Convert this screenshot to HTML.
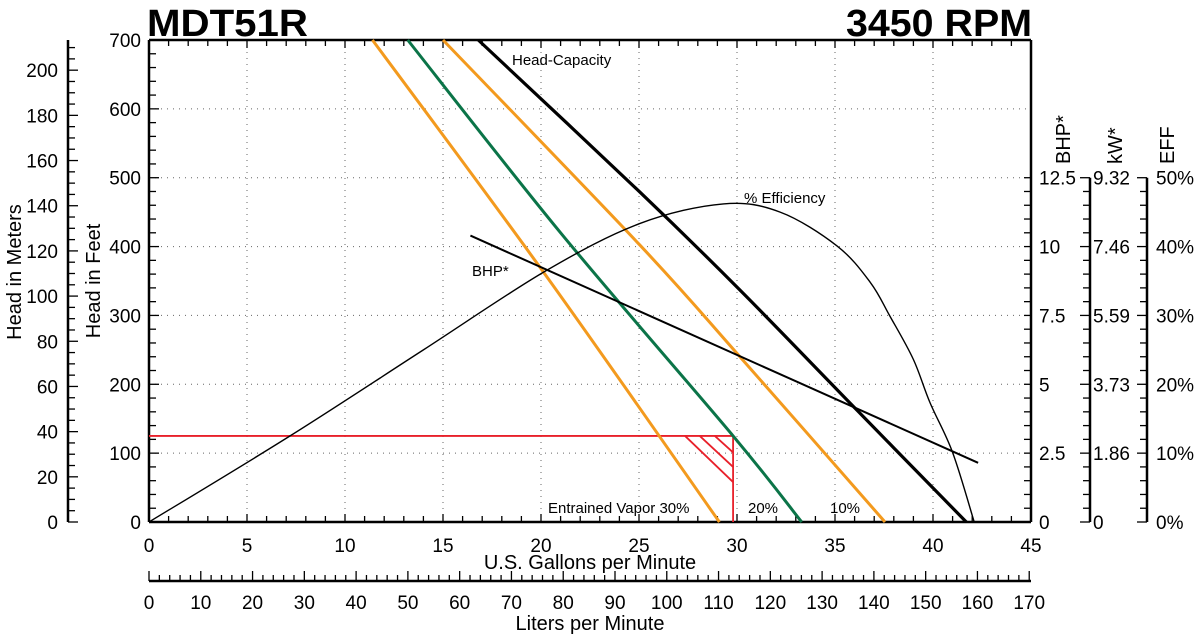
<!DOCTYPE html>
<html><head><meta charset="utf-8"><style>
html,body{margin:0;padding:0;background:#fff}
svg{display:block;font-family:"Liberation Sans",Arial,sans-serif}
</style></head><body>
<svg id="c" width="1200" height="638" viewBox="0 0 1200 638" xmlns="http://www.w3.org/2000/svg"></svg>
<script>
const gpmTicks=[0,5,10,15,20,25,30,35,40,45];
const ftTicks=[0,100,200,300,400,500,600,700];
const mTicks=[0,20,40,60,80,100,120,140,160,180,200];
const lpmTicks=[0,10,20,30,40,50,60,70,80,90,100,110,120,130,140,150,160,170];
const bhpTicks=[0,2.5,5,7.5,10,12.5];
const kwLabels=["0","1.86","3.73","5.59","7.46","9.32"];
const effTicks=[0,10,20,30,40,50];
const hcGpm=[16.8,25.05,30.15,36.1,41.7];
const hcFt=[700,479,337,163,0];
const effGpm=[0,7.2,14,20.2,25,29.3,32.2,35.1,36.8,37.8,39,39.85,41,42.1];
const effPct=[0,12.5,25,36.4,43.3,46.2,45,40.1,34.8,29.9,23.6,17.3,10.1,0];
const bhpGpm=[16.4,42.3];
const bhpVal=[10.4,2.15];
const v30Gpm=[11.4,20.2,29.1];const v30Ft=[700,360,0];
const v20Gpm=[13.2,21,29.8,33.3];const v20Ft=[700,420,125,0];
const v10Gpm=[15.0,25.05,30.15,37.55];const v10Ft=[700,402,240,0];
const npshFt=125, npshGpm=29.8;
const hatchStartGpm=[27.35,28.1,28.87];
const hatchEndFt=[58,80,101];

const L=149,R=1031,T=40,B=522;
const X=g=>L+g*(R-L)/45;
const Y=f=>B-f*(B-T)/700;
const YB=b=>Y(b*40);
const YE=e=>Y(e*10);
const YM=m=>Y(m*3.28084);
const XL=l=>X(l/3.78541);
const svg=document.getElementById('c');
const NS='http://www.w3.org/2000/svg';
function el(tag,attrs,parent){const e=document.createElementNS(NS,tag);for(const k in attrs)e.setAttribute(k,attrs[k]);(parent||svg).appendChild(e);return e;}
function txt(x,y,s,size,anchor,extra){const t=el('text',Object.assign({x:x,y:y,'font-size':size,'text-anchor':anchor||'start',fill:'#000'},extra||{}));t.textContent=s;return t;}
function line(x1,y1,x2,y2,w,c){return el('line',{x1,y1,x2,y2,stroke:c||'#000','stroke-width':w||1});}

const grid=el('g',{});


gpmTicks.slice(1,-1).forEach(g=>el('line',{x1:X(g),y1:T,x2:X(g),y2:B,stroke:'#666','stroke-width':1,'stroke-dasharray':'1,5'},grid));
ftTicks.slice(1,-1).forEach(f=>el('line',{x1:L,y1:Y(f),x2:R,y2:Y(f),stroke:'#666','stroke-width':1,'stroke-dasharray':'1,5'},grid));

let t=txt(147,36,'MDT51R',38,'start',{'font-weight':'bold',textLength:161,lengthAdjust:'spacingAndGlyphs'});

t=txt(1032,36,'3450 RPM',38,'end',{'font-weight':'bold',textLength:186,lengthAdjust:'spacingAndGlyphs'});


for(let g=0;g<=45;g++){const len=g%5==0?8:6;line(X(g),B,X(g),B-len,1.3);line(X(g),T,X(g),T+len,1.3);}
for(let f=0;f<=700;f+=20){const len=f%100==0?10:7;line(L,Y(f),L+len,Y(f),1.3);}
for(let b=0;b<=12.5;b+=0.5){line(R,YB(b),R-7,YB(b),1.3);}
line(L,T,R,T,2.5);line(L,B,R,B,2.5);line(L,T,L,B,2.5);line(R,T,R,B,2.5);

gpmTicks.forEach(g=>{const e=txt(X(g),552,String(g),19,'middle');});
ftTicks.forEach(f=>{const e=txt(141,Y(f)+7,String(f),19,'end');});
t=txt(590,569,'U.S. Gallons per Minute',20,'middle');
t=txt(0,0,'Head in Feet',20,'middle',{transform:'translate(100,281) rotate(-90)'});

const MX=68;
line(MX,Y(0),MX,Y(700),2.5);
for(let m=0;m<=210;m+=5){line(MX,YM(m),MX+(m%20==0?10:7),YM(m),1.3);}
mTicks.forEach(m=>{const e=txt(58,YM(m)+7,String(m),19,'end');});
t=txt(0,0,'Head in Meters',20,'middle',{transform:'translate(21,272) rotate(-90)'});

const LY=581;
line(L,LY,R,LY,2.5);
for(let l=0;l<=170;l+=2){line(XL(l),LY,XL(l),LY-(l%10==0?10:6),1.3);}
lpmTicks.forEach(l=>{const e=txt(XL(l),609,String(l),19,'middle');});
t=txt(590,630,'Liters per Minute',20,'middle');

bhpTicks.forEach(b=>{const e=txt(1039,YB(b)+7,String(b),19,'start');});
t=txt(0,0,'BHP*',20,'start',{transform:'translate(1070,164) rotate(-90)'});
const KX=1090;
line(KX,YB(0),KX,YB(12.5),2.5);
for(let b=0;b<=12.5;b+=0.5){line(KX,YB(b),KX-(b%2.5==0?10:7),YB(b),1.3);}
kwLabels.forEach((s,i)=>{const e=txt(1093,YB(bhpTicks[i])+7,s,19,'start');});
t=txt(0,0,'kW*',20,'start',{transform:'translate(1122,164) rotate(-90)'});
const EX=1147;
line(EX,YE(0),EX,YE(50),2.5);
for(let e2=0;e2<=50;e2+=2){line(EX,YE(e2),EX-(e2%10==0?10:7),YE(e2),1.3);}
effTicks.forEach(e2=>{const e=txt(1156,YE(e2)+7,e2+'%',19,'start');});
t=txt(0,0,'EFF',20,'start',{transform:'translate(1174,164) rotate(-90)'});

function poly(xs,ys,fx,fy,color,w,name){
  const pts=xs.map((x,i)=>fx(x).toFixed(1)+','+fy(ys[i]).toFixed(1)).join(' ');
  const p=el('polyline',{points:pts,fill:'none',stroke:color,'stroke-width':w,'stroke-linejoin':'round'});
  
  
  return p;
}
function smooth(xs,ys,fx,fy,color,w,name){
  const P=xs.map((x,i)=>[fx(x),fy(ys[i])]);
  let d='M'+P[0][0]+','+P[0][1];
  for(let i=0;i<P.length-1;i++){
    const p0=P[i-1]||P[i],p1=P[i],p2=P[i+1],p3=P[i+2]||P[i+1];
    const c1=[p1[0]+(p2[0]-p0[0])/6,p1[1]+(p2[1]-p0[1])/6];
    const c2=[p2[0]-(p3[0]-p1[0])/6,p2[1]-(p3[1]-p1[1])/6];
    d+=' C'+c1[0].toFixed(1)+','+c1[1].toFixed(1)+' '+c2[0].toFixed(1)+','+c2[1].toFixed(1)+' '+p2[0].toFixed(1)+','+p2[1].toFixed(1);
  }
  const p=el('path',{d:d,fill:'none',stroke:color,'stroke-width':w});
  
  
  return p;
}
const red='#e8202a';
let r=line(L,Y(npshFt),X(npshGpm),Y(npshFt),1.8,red);

r=line(X(npshGpm),Y(npshFt),X(npshGpm),B,1.8,red);

hatchStartGpm.forEach((g,i)=>{const h=line(X(g),Y(npshFt),X(npshGpm),Y(hatchEndFt[i]),1.8,red);});

smooth(v30Gpm,v30Ft,X,Y,'#f39a1e',3,'vapor-30-curve');
smooth(v20Gpm,v20Ft,X,Y,'#0b7448',3,'vapor-20-curve');
smooth(v10Gpm,v10Ft,X,Y,'#f39a1e',3,'vapor-10-curve');
smooth(hcGpm,hcFt,X,Y,'#000',3.2,'head-capacity-curve');
smooth(effGpm,effPct,X,YE,'#000',1.4,'efficiency-curve');
poly(bhpGpm,bhpVal,X,YB,'#000',2,'bhp-curve');

[[512,65,'Head-Capacity','head-capacity-label'],[744,203,'% Efficiency','efficiency-label'],[472,276,'BHP*','bhp-label'],[548,513,'Entrained Vapor 30%','vapor-30-label'],[748,513,'20%','vapor-20-label'],[830,513,'10%','vapor-10-label']].forEach(([x,y,s,n])=>{const e=txt(x,y,s,15,'start');});
</script>
</body></html>
